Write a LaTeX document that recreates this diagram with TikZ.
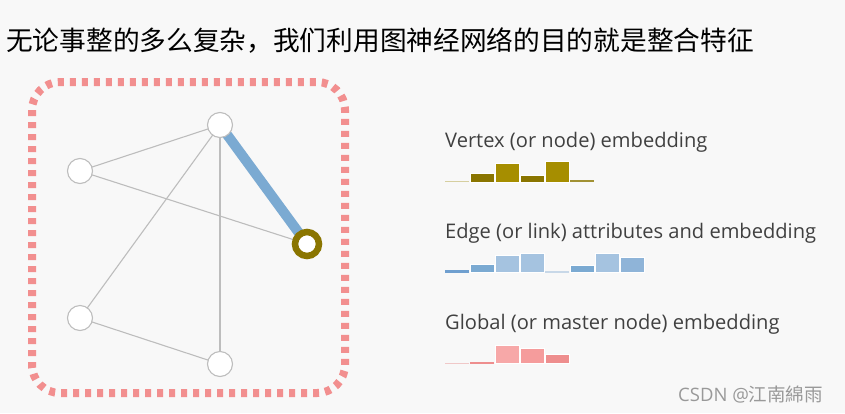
\documentclass[tikz,border=0pt]{standalone}
\usepackage{fontspec}
\setmainfont{Open Sans}
\newfontfamily\cjk{Noto Sans CJK SC}
\definecolor{bg}{HTML}{F8F8F8}
\definecolor{edgegray}{HTML}{BDBDBD}
\definecolor{txt}{HTML}{404040}
\definecolor{olive}{HTML}{8A7500}
\definecolor{oliveB}{HTML}{A68E00}
\definecolor{oliveL}{HTML}{D6CFA0}
\definecolor{blueM}{HTML}{6F9FCF}
\definecolor{blueE}{HTML}{7BAAD2}
\definecolor{blueL}{HTML}{A5C3E0}
\definecolor{blueVL}{HTML}{C8D8E8}
\definecolor{blueML}{HTML}{8FB4D8}
\definecolor{pinkD}{HTML}{F28F8F}
\definecolor{pinkL}{HTML}{F7A8A8}
\definecolor{pinkM}{HTML}{F59C9C}
\definecolor{pinkE}{HTML}{EE8E8E}
\definecolor{pinkVL}{HTML}{F0C8C8}
\tikzset{
  gnode/.style={circle,draw=edgegray,line width=1.1pt,fill=white,minimum size=25pt,inner sep=0pt},
  gedge/.style={draw=edgegray,line width=1.1pt},
  hnode/.style={circle,draw=olive,line width=6.5pt,fill=white,minimum size=24pt,inner sep=0pt},
  hedge/.style={draw=blueE,line width=10pt},
  frame/.style={draw=pinkD,line width=8pt,rounded corners=28pt,dash pattern=on 6pt off 6pt},
  lbl/.style={anchor=base west,inner sep=0pt,text=txt,font=\fontsize{20.1}{24}\selectfont},
  bar/.style={draw=white,line width=0.8pt}
}
\begin{document}
\begin{tikzpicture}[x=1pt,y=-1pt]
\fill[bg] (0,0) rectangle (845,413);
\useasboundingbox (0,0) rectangle (845,413);

\node[anchor=west,inner sep=0pt,font=\cjk\fontsize{26.7}{30}\selectfont] (title) at (6,41) {无论事整的多么复杂，我们利用图神经网络的目的就是整合特征};

\draw[frame] (32,82) rectangle (345,393);

\coordinate (A) at (220,125);
\coordinate (B) at (80,171);
\coordinate (C) at (307,244);
\coordinate (D) at (80,318);
\coordinate (E) at (220,364);

\draw[gedge] (A) -- (B);
\draw[gedge] (B) -- (C);
\draw[gedge] (A) -- (D);
\draw[gedge] (A) -- (E);
\draw[gedge] (D) -- (E);
\draw[hedge] (A) -- (C);

\node[gnode] (nA) at (A) {};
\node[gnode] (nB) at (B) {};
\node[gnode] (nD) at (D) {};
\node[gnode] (nE) at (E) {};
\node[hnode] (nC) at (C) {};

\node[lbl] (l1) at (445,147) {Vertex (or node) embedding};
\node[lbl] (l2) at (445,238.5) {Edge (or link) attributes and embedding};
\node[lbl] (l3) at (445,329.5) {Global (or master node) embedding};

% vertex bars
\fill[oliveL] (445,180.5) rectangle (469,182);
\filldraw[bar,fill=olive] (470,173.3) rectangle (494,182);
\filldraw[bar,fill=oliveB] (495,163.3) rectangle (519,182);
\filldraw[bar,fill=olive] (520,175) rectangle (544,182);
\filldraw[bar,fill=oliveB] (545,161.7) rectangle (569,182);
\fill[olive!80] (570,179.5) rectangle (594,182);

% edge bars
\fill[blueM] (445,270) rectangle (469,272.5);
\filldraw[bar,fill=blueE] (470,264) rectangle (494,272.5);
\filldraw[bar,fill=blueL] (495,255) rectangle (519,272.5);
\filldraw[bar,fill=blueL] (520,253.3) rectangle (544,272.5);
\fill[blueVL] (545,271) rectangle (569,272.5);
\filldraw[bar,fill=blueE] (570,265) rectangle (594,272.5);
\filldraw[bar,fill=blueL] (595,253.3) rectangle (619,272.5);
\filldraw[bar,fill=blueML] (620,257.7) rectangle (644,272.5);

% global bars
\fill[pinkVL] (445,362.8) rectangle (469,363.6);
\fill[pinkE] (470,361.7) rectangle (494,363.6);
\filldraw[bar,fill=pinkL] (495,345) rectangle (519,363.6);
\filldraw[bar,fill=pinkM] (520,348.3) rectangle (544,363.6);
\filldraw[bar,fill=pinkE] (545,354) rectangle (569,363.6);

\node[anchor=west,inner sep=0pt,text=black!40,font=\fontsize{18.5}{22}\selectfont] (wm) at (678,395) {CSDN @{\cjk 江南綿雨}};
\end{tikzpicture}
\end{document}
